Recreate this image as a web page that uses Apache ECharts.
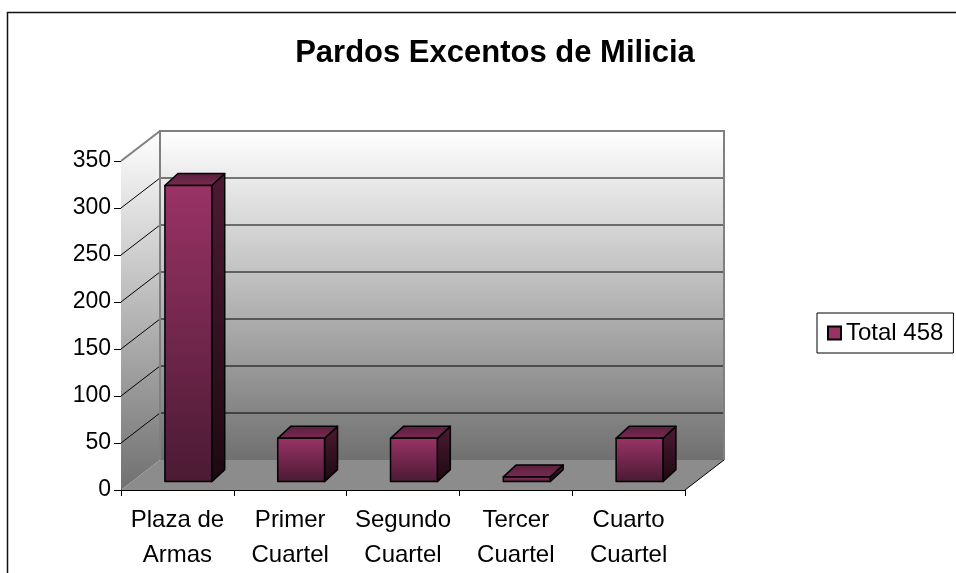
<!DOCTYPE html>
<html>
<head>
<meta charset="utf-8">
<script src="https://cdn.jsdelivr.net/npm/echarts@6/dist/echarts.min.js"></script>
<style>
    html, body { margin: 0; padding: 0; background: #fff; }
    #chart { width: 956px; height: 573px; }
</style>
</head>
<body>
<div id="chart"></div>
<script>
// datos del gráfico
const categories = ['Plaza de\nArmas', 'Primer\nCuartel', 'Segundo\nCuartel', 'Tercer\nCuartel', 'Cuarto\nCuartel'];
const values = [315, 46, 46, 5, 46];
const seriesName = 'Total 458';
const yTicks = [0, 50, 100, 150, 200, 250, 300, 350];

const FONT = '"Liberation Sans", Arial, sans-serif';
// profundidad de la caja 3D
const DX = 39, DY = 30;

const chart = echarts.init(document.getElementById('chart'));

/**
 * paredes, suelo y líneas de división en perspectiva
 */
function renderWalls(params, api) {
    const cs = params.coordSys;
    const x0 = cs.x, x1 = cs.x + cs.width;
    const yTop = cs.y, yBot = cs.y + cs.height;
    const wallFill = () => new echarts.graphic.LinearGradient(0, 0, 0, 1, [
        { offset: 0, color: '#ffffff' },
        { offset: 1, color: '#707070' }
    ]);
    const children = [];

    // pared izquierda
    children.push({
        type: 'polygon',
        shape: { points: [[x0, yTop], [x0 + DX, yTop - DY], [x0 + DX, yBot - DY], [x0, yBot]] },
        style: { fill: wallFill() }
    });
    // pared del fondo
    children.push({
        type: 'rect',
        shape: { x: x0 + DX, y: yTop - DY, width: cs.width, height: cs.height },
        style: { fill: wallFill() }
    });
    // suelo
    children.push({
        type: 'polygon',
        shape: { points: [[x0, yBot], [x0 + DX, yBot - DY], [x1 + DX, yBot - DY], [x1, yBot]] },
        style: { fill: '#8c8c8c' }
    });

    yTicks.forEach(v => {
        if (v === 0) return;
        const y = api.coord([0, v])[1];
        const isTop = v === yTicks[yTicks.length - 1];
        const color = isTop ? '#808080' : '#000';
        const lw = isTop ? 2 : 1;
        children.push({
            type: 'line',
            shape: { x1: x0 + DX, y1: y - DY, x2: x1 + DX, y2: y - DY },
            style: { stroke: color, lineWidth: lw }
        });
        children.push({
            type: 'line',
            shape: { x1: x0, y1: y, x2: x0 + DX, y2: y - DY },
            style: { stroke: color, lineWidth: lw }
        });
    });

    // bordes de la pared del fondo
    children.push({
        type: 'polyline',
        shape: { points: [[x0 + DX, yBot - DY], [x0 + DX, yTop - DY], [x1 + DX, yTop - DY], [x1 + DX, yBot - DY]] },
        style: { stroke: '#808080', lineWidth: 2, fill: null }
    });
    // borde derecho del suelo
    children.push({
        type: 'line',
        shape: { x1: x1, y1: yBot, x2: x1 + DX, y2: yBot - DY },
        style: { stroke: '#000', lineWidth: 1 }
    });

    return { type: 'group', children };
}

/**
 * columna 3D
 */
function renderBar(params, api) {
    const i = api.value(0);
    const v = api.value(1);
    const base = api.coord([i, 0]);
    const top = api.coord([i, v]);
    const band = api.size([1, 0])[0];
    const w = band * 0.415;
    const ox = DX * 0.28, oy = DY * 0.28;
    const sx = 13, sy = 12;
    const xl = base[0] - w / 2 + ox, xr = xl + w;
    const yb = base[1] - oy, yt = top[1] - oy;
    const stroke = { stroke: '#000', lineWidth: 1.5, lineJoin: 'round' };

    return {
        type: 'group',
        children: [
            {
                type: 'polygon',
                shape: { points: [[xr, yt], [xr + sx, yt - sy], [xr + sx, yb - sy], [xr, yb]] },
                style: Object.assign({
                    fill: new echarts.graphic.LinearGradient(0, 0, 0, 1, [
                        { offset: 0, color: '#4d1a33' },
                        { offset: 1, color: '#1c0912' }
                    ])
                }, stroke)
            },
            {
                type: 'polygon',
                shape: { points: [[xl, yt], [xl + sx, yt - sy], [xr + sx, yt - sy], [xr, yt]] },
                style: Object.assign({
                    fill: new echarts.graphic.LinearGradient(0, 0, 0, 1, [
                        { offset: 0, color: '#5a1f3d' },
                        { offset: 1, color: '#7a2a52' }
                    ])
                }, stroke)
            },
            {
                type: 'rect',
                shape: { x: xl, y: yt, width: w, height: yb - yt },
                style: Object.assign({
                    fill: new echarts.graphic.LinearGradient(0, 0, 0, 1, [
                        { offset: 0, color: '#9a3366' },
                        { offset: 1, color: '#4a1a33' }
                    ])
                }, stroke)
            }
        ]
    };
}

const option = {
    backgroundColor: '#fff',
    animation: false,
    textStyle: { fontFamily: FONT },
    title: {
        text: 'Pardos Excentos de Milicia',
        left: 490,
        textAlign: 'center',
        top: 33,
        textStyle: { fontFamily: FONT, fontSize: 31, fontWeight: 'bold', color: '#000' }
    },
    legend: {
        data: [seriesName],
        left: 817,
        top: 313,
        padding: [8, 10, 8, 10],
        borderColor: '#000',
        borderWidth: 1,
        icon: 'rect',
        itemWidth: 13,
        itemHeight: 13,
        textStyle: { fontFamily: FONT, fontSize: 24, color: '#000' }
    },
    grid: {
        left: 121,
        top: 161,
        right: 271,
        bottom: 80,
        containLabel: false
    },
    xAxis: {
        type: 'category',
        data: categories,
        axisLine: { lineStyle: { color: '#000', width: 1 } },
        axisTick: { show: true, interval: 0, length: 6, lineStyle: { color: '#000' } },
        axisLabel: { interval: 0, color: '#000', fontFamily: FONT, fontSize: 24, lineHeight: 35, margin: 13 },
        splitLine: { show: false }
    },
    yAxis: {
        type: 'value',
        min: 0,
        max: 350,
        interval: 50,
        axisLine: { show: true, lineStyle: { color: '#000', width: 1 } },
        axisTick: { show: true, length: 7, lineStyle: { color: '#000' } },
        axisLabel: { color: '#000', fontFamily: FONT, fontSize: 23, margin: 10 },
        splitLine: { show: false }
    },
    graphic: [
        {
            type: 'rect',
            left: 5,
            top: 10,
            shape: { width: 1000, height: 600 },
            style: { fill: null, stroke: '#111', lineWidth: 1.5 },
            silent: true,
            z: 100
        }
    ],
    series: [
        {
            type: 'custom',
            name: 'walls',
            renderItem: renderWalls,
            data: [[0, 0]],
            silent: true,
            z: 1
        },
        {
            type: 'custom',
            name: seriesName,
            renderItem: renderBar,
            itemStyle: { color: '#993366', borderColor: '#000', borderWidth: 1 },
            data: values.map((v, i) => [i, v]),
            z: 2
        }
    ]
};

chart.setOption(option);
window.addEventListener('resize', () => chart.resize());
</script>
</body>
</html>
